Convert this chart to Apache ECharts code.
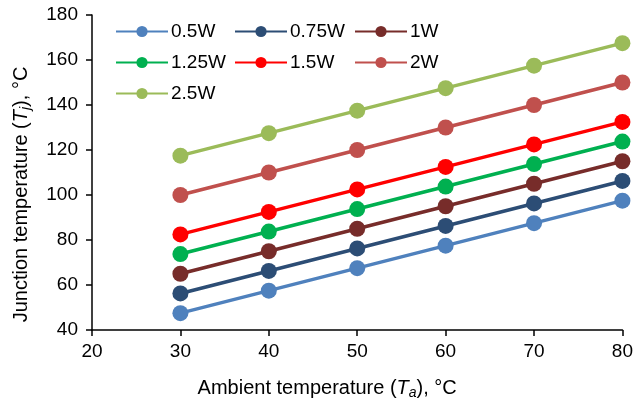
<!DOCTYPE html>
<html lang="en">
<head>
  <meta charset="UTF-8">
  <title>Junction temperature</title>
  <script src="https://cdn.jsdelivr.net/npm/echarts@6/dist/echarts.min.js"></script>
</head>
<body style="margin:0">
<div id="main" style="width:636px;height:405px;"></div>
<script>
  // ambient temperature (x) and junction temperature per power level
  var ambient = [30, 40, 50, 60, 70, 80];
  var names = ['0.5W', '0.75W', '1W', '1.25W', '1.5W', '2W', '2.5W'];
  var colors = ['#4F81BD', '#2C4D75', '#772C2A', '#00B050', '#FF0000', '#C0504D', '#9BBB59'];
  var tj05 = [47.5, 57.5, 67.5, 77.5, 87.5, 97.5];
  var tj075 = [56.25, 66.25, 76.25, 86.25, 96.25, 106.25];
  var tj1 = [65, 75, 85, 95, 105, 115];
  var tj125 = [73.75, 83.75, 93.75, 103.75, 113.75, 123.75];
  var tj15 = [82.5, 92.5, 102.5, 112.5, 122.5, 132.5];
  var tj2 = [100, 110, 120, 130, 140, 150];
  var tj25 = [117.5, 127.5, 137.5, 147.5, 157.5, 167.5];
  var allData = [tj05, tj075, tj1, tj125, tj15, tj2, tj25];

  var font = 'Liberation Sans';

  var series = [];
  for (var i = 0; i < names.length; i++) {
    series.push({
      name: names[i],
      type: 'line',
      data: ambient.map(function (x, k) { return [x, allData[i][k]]; }),
      symbol: 'circle',
      symbolSize: 16,
      lineStyle: { width: 3.5, color: colors[i] },
      itemStyle: { color: colors[i] },
      emphasis: { disabled: true }
    });
  }

  var legendBase = {
    orient: 'vertical',
    top: 17,
    itemWidth: 52,
    itemHeight: 14,
    itemGap: 12,
    textStyle: { fontSize: 19, fontFamily: font, color: '#000', padding: [0, 0, 0, -2] }
  };
  var legends = [
    Object.assign({}, legendBase, { left: 110, data: ['0.5W', '1.25W', '2.5W'] }),
    Object.assign({}, legendBase, { left: 229, data: ['0.75W', '1.5W'] }),
    Object.assign({}, legendBase, { left: 349, data: ['1W', '2W'] })
  ];

  var richName = {
    n: { fontSize: 20, fontFamily: font, color: '#000' },
    i: { fontSize: 20, fontFamily: font, fontStyle: 'italic', color: '#000' },
    s: { fontSize: 14, fontFamily: font, fontStyle: 'italic', color: '#000', verticalAlign: 'bottom', padding: [10, 0, 0, 0] }
  };

  var chart = echarts.init(document.getElementById('main'));
  var option = {
    animation: false,
    legend: legends,
    grid: { left: 92, right: 9, top: 15, bottom: 70 },
    xAxis: {
      type: 'value',
      min: 20, max: 80, interval: 10,
      name: '{n|Ambient temperature (}{i|T}{s|a}{n|), °C}',
      nameLocation: 'middle',
      nameGap: 46,
      nameTextStyle: { rich: richName, padding: [0, 60, 0, 0] },
      axisLine: { lineStyle: { color: '#000', width: 1.5 } },
      axisTick: { inside: false, length: 6, lineStyle: { color: '#000', width: 1.5 } },
      axisLabel: { fontSize: 19, fontFamily: font, color: '#000', margin: 12 },
      splitLine: { show: false }
    },
    yAxis: {
      type: 'value',
      min: 40, max: 180, interval: 20,
      name: '{n|Junction temperature (}{i|T}{s|j}{n|), °C}',
      nameLocation: 'middle',
      nameGap: 59,
      nameTextStyle: { rich: richName, padding: [0, 44, 0, 0] },
      axisLine: { show: true, lineStyle: { color: '#000', width: 1.5 } },
      axisTick: { show: true, length: 6, lineStyle: { color: '#000', width: 1.5 } },
      axisLabel: { fontSize: 19, fontFamily: font, color: '#000', margin: 14 },
      splitLine: { show: false }
    },
    series: series
  };
  chart.setOption(option);
</script>
</body>
</html>
